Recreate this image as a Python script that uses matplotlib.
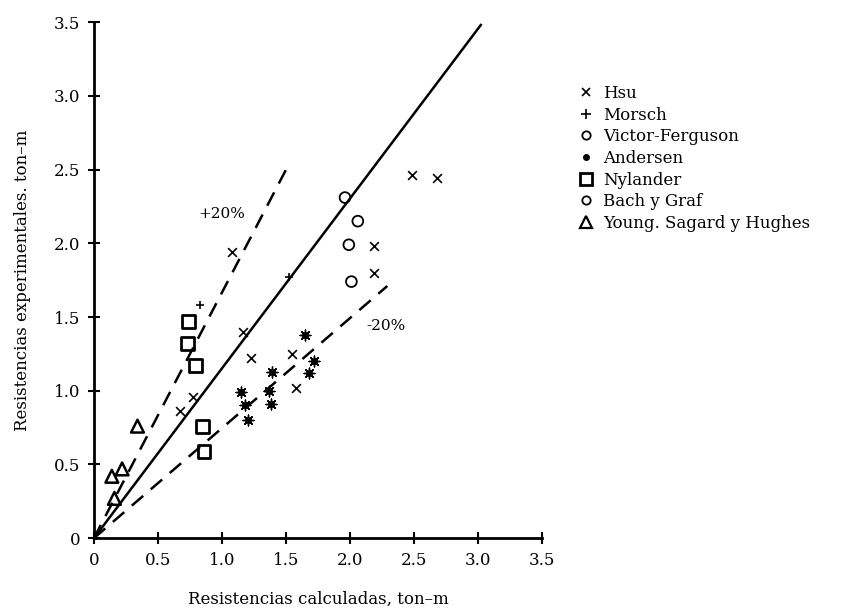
import matplotlib
matplotlib.use("Agg")
import matplotlib.pyplot as plt
from matplotlib.lines import Line2D

# ---- data ----
hsu_x = [1.08, 1.16, 1.23, 1.55, 1.58, 0.77, 0.67, 2.19, 2.19, 2.48, 2.68]
hsu_y = [1.94, 1.40, 1.22, 1.25, 1.02, 0.96, 0.86, 1.98, 1.80, 2.46, 2.44]

morsch_x = [0.83, 1.52]
morsch_y = [1.58, 1.77]

victor_x = [1.96, 1.99]
victor_y = [2.31, 1.99]

andersen_x = [1.65, 1.72, 1.68, 1.39, 1.37, 1.38, 1.15, 1.18, 1.20]
andersen_y = [1.38, 1.20, 1.12, 1.13, 1.00, 0.91, 0.99, 0.90, 0.80]

nylander_x = [0.74, 0.73, 0.79, 0.85, 0.86]
nylander_y = [1.47, 1.32, 1.17, 0.76, 0.59]

bach_x = [2.06, 2.01]
bach_y = [2.15, 1.74]

young_x = [0.34, 0.22, 0.14, 0.16]
young_y = [0.76, 0.47, 0.42, 0.27]

# reference lines (start, end)
line_mid_x = [0.0, 3.02]
line_mid_y = [0.0, 3.48]
line_plus_x = [0.0, 1.50]
line_plus_y = [0.0, 2.50]
line_minus_x = [0.0, 2.29]
line_minus_y = [0.0, 1.71]

ticks = [0, 0.5, 1.0, 1.5, 2.0, 2.5, 3.0, 3.5]
tick_labels = ["0", "0.5", "1.0", "1.5", "2.0", "2.5", "3.0", "3.5"]

legend_labels = ["Hsu", "Morsch", "Victor-Ferguson", "Andersen", "Nylander",
                 "Bach y Graf", "Young. Sagard y Hughes"]

# ---- figure ----
plt.rcParams['font.family'] = ['DejaVu Serif']
fig = plt.figure(figsize=(8.46, 6.13), dpi=100)
ax = fig.add_axes([0.111, 0.122, 0.530, 0.842])
ax.set_xlim(0, 3.5)
ax.set_ylim(0, 3.5)

for s in ["top", "right"]:
    ax.spines[s].set_visible(False)
for s in ["left", "bottom"]:
    ax.spines[s].set_linewidth(2.0)

ax.set_xticks(ticks)
ax.set_xticklabels(tick_labels)
ax.set_yticks(ticks)
ax.set_yticklabels(tick_labels)
ax.tick_params(direction="inout", length=8, width=1.5, labelsize=12, pad=6)

k = "black"
ax.plot(line_mid_x, line_mid_y, color=k, lw=1.8)
ax.plot(line_plus_x, line_plus_y, color=k, lw=1.8, dashes=(6, 4))
ax.plot(line_minus_x, line_minus_y, color=k, lw=1.8, dashes=(6, 4))

ax.text(1.00, 2.20, "+20%", fontsize=11, ha="center", va="center")
ax.text(2.28, 1.44, "-20%", fontsize=11, ha="center", va="center")

ax.scatter(hsu_x, hsu_y, marker="x", s=40, color=k, linewidths=1.2, zorder=3)
ax.scatter(morsch_x, morsch_y, marker="+", s=40, color=k, linewidths=1.2, zorder=3)
ax.scatter(victor_x, victor_y, marker="o", s=60, facecolors="none", edgecolors=k,
           linewidths=1.3, zorder=3)
ax.scatter(andersen_x, andersen_y, marker=(8, 2, 0), s=60, color=k, linewidths=1.0,
           zorder=3)
ax.scatter(andersen_x, andersen_y, marker="o", s=16, color=k, zorder=3)
ax.scatter(nylander_x, nylander_y, marker="s", s=85, facecolors="none", edgecolors=k,
           linewidths=2.0, zorder=3)
ax.scatter(bach_x, bach_y, marker="o", s=60, facecolors="none", edgecolors=k,
           linewidths=1.3, zorder=3)
ax.scatter(young_x, young_y, marker="^", s=85, facecolors="none", edgecolors=k,
           linewidths=1.8, zorder=3)

ax.set_xlabel("Resistencias calculadas, ton\u2013m", fontsize=12, labelpad=16)
ax.set_ylabel("Resistencias experimentales. ton\u2013m", fontsize=12, labelpad=16)

handles = [
    Line2D([], [], ls="none", marker="x", ms=6, color=k, mew=1.2),
    Line2D([], [], ls="none", marker="+", ms=7, color=k, mew=1.2),
    Line2D([], [], ls="none", marker="o", ms=6, mfc="none", mec=k, mew=1.3),
    Line2D([], [], ls="none", marker="o", ms=4, color=k),
    Line2D([], [], ls="none", marker="s", ms=8, mfc="none", mec=k, mew=2.0),
    Line2D([], [], ls="none", marker="o", ms=6, mfc="none", mec=k, mew=1.3),
    Line2D([], [], ls="none", marker="^", ms=8, mfc="none", mec=k, mew=1.6),
]
fig.legend(handles, legend_labels, loc="upper left", bbox_to_anchor=(0.675, 0.875),
           frameon=False, fontsize=12, labelspacing=0.28, handlelength=0.8,
           handletextpad=0.6, borderpad=0)

fig.savefig("out.png", dpi=100, facecolor="white")
